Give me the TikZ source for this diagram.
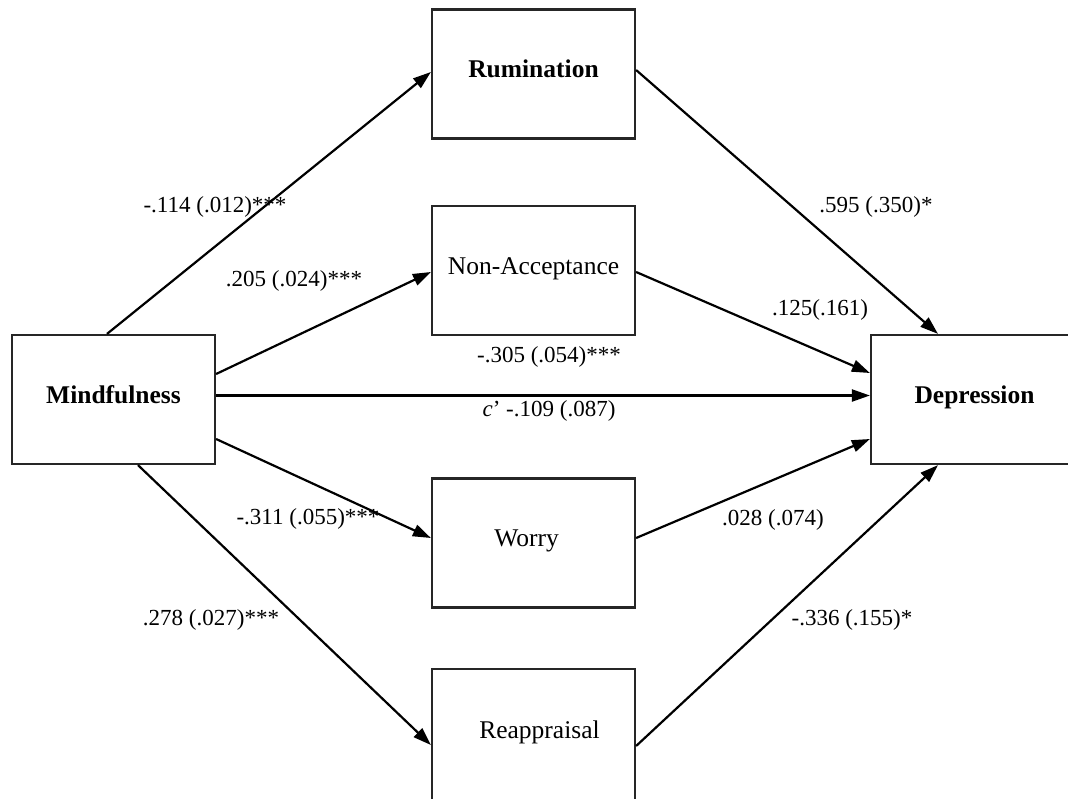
\documentclass[tikz,border=0pt]{standalone}
\usepackage{fontspec}
\setmainfont{Liberation Serif}
\usetikzlibrary{arrows.meta,calc}
\begin{document}
\begin{tikzpicture}[x=1pt,y=-1pt,
  varbox/.style={draw=black!85, line width=2.2pt, minimum width=203pt, minimum height=129pt,
     inner sep=0pt, font=\fontsize{25.5}{29}\selectfont, text height=18pt, text depth=10.5pt},
  path/.style={line width=2.2pt, -{Triangle[length=18pt,width=12pt]}},
  coef/.style={font=\fontsize{23}{27}\selectfont, inner sep=0pt}]
\useasboundingbox (0,0) rectangle (1068,798);
\clip (0,0) rectangle (1068,798);
\node[varbox] (mind) at (113.5,399.5) {\textbf{Mindfulness}};
\node[varbox] (rum) at (533.5,74) {\textbf{Rumination}};
\node[varbox] (nonacc) at (533.5,270.5) {Non-Acceptance};
\node[varbox] (worry) at (533.5,543) {\hspace{-14pt}Worry};
\node[varbox, minimum height=131pt] (reap) at (533.5,734.5) {\hspace{12pt}Reappraisal};
\node[varbox, minimum width=207pt] (dep) at (974.5,399.5) {\textbf{Depression}\hspace{16pt}};

\draw[path] ([xshift=-6.5pt]mind.north) -- ([yshift=2pt]rum.west);
\draw[path] ([yshift=25.5pt]mind.east) -- ([yshift=-1.5pt]nonacc.west);
\draw[path] ([yshift=4pt]mind.east) -- ([yshift=4pt]dep.west);
\draw[path] ([yshift=-39.5pt]mind.east) -- ([yshift=5pt]worry.west);
\draw[path] ([xshift=24.5pt]mind.south) -- ([yshift=-10.5pt]reap.west);
\draw[path] ([yshift=4pt]rum.east) -- ([xshift=-36.5pt]dep.north);
\draw[path] ([yshift=-1.5pt]nonacc.east) -- ([yshift=26.5pt]dep.west);
\draw[path] ([yshift=5pt]worry.east) -- ([yshift=-39.5pt]dep.west);
\draw[path] ([yshift=-11.5pt]reap.east) -- ([xshift=-36.5pt]dep.south);

\node[coef] (l1) at (215,207) {-.114 (.012)***};
\node[coef] (l2) at (294,281) {.205 (.024)***};
\node[coef] (l3) at (549,357) {-.305 (.054)***};
\node[coef] (l4) at (549,411) {\textit{c}’ -.109 (.087)};
\node[coef] (l5) at (308,519) {-.311 (.055)***};
\node[coef] (l6) at (211,620) {.278 (.027)***};
\node[coef] (l7) at (876,207) {.595 (.350)*};
\node[coef] (l8) at (820,310) {.125(.161)};
\node[coef] (l9) at (773,520) {.028 (.074)};
\node[coef] (l10) at (852,620) {-.336 (.155)*};
\end{tikzpicture}
\end{document}
